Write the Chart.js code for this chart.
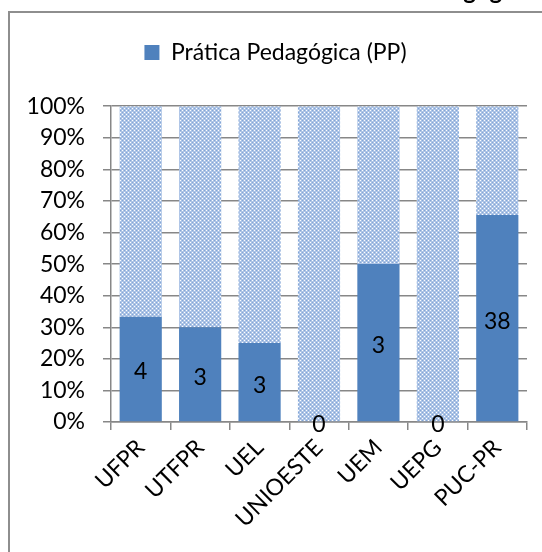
<!DOCTYPE html>
<html>
<head>
<meta charset="utf-8">
<script src="https://cdn.jsdelivr.net/npm/chart.js@4/dist/chart.umd.min.js"></script>
<style>
    body { margin: 0; background: #fff; }
    #frame { position: absolute; left: 8px; top: 11px; width: 600px; height: 600px; border: 2px solid #8e8e8e; }
    #wrap { position: absolute; left: 0; top: 0; width: 542px; height: 552px; }
</style>
</head>
<body>
<div id="frame"></div>
<div id="wrap"><canvas id="myChart"></canvas></div>
<script>
var universidades = ['UFPR', 'UTFPR', 'UEL', 'UNIOESTE', 'UEM', 'UEPG', 'PUC-PR'];
var praticaPedagogica = [4, 3, 3, 0, 3, 0, 38];
var outros = [8, 7, 9, 5, 3, 4, 20];
var yTicks = [0, 10, 20, 30, 40, 50, 60, 70, 80, 90, 100];
var tituloGrafico = 'Prática Pedagógica';

var fonte = 'Lato';
var tamanho = 23;

// percent of each column (100% stacked)
function toPercent(a, b) {
    return a.map(function (v, i) {
        var total = v + b[i];
        return total ? v / total * 100 : 0;
    });
}

function makePattern() {
    var c = document.createElement('canvas');
    c.width = 4;
    c.height = 4;
    var g = c.getContext('2d');
    g.fillStyle = '#adc4e6';
    g.fillRect(0, 0, 4, 4);
    g.fillStyle = '#ffffff';
    g.fillRect(0, 0, 1, 1);
    g.fillRect(2, 2, 1, 1);
    g.fillStyle = '#83a6d6';
    g.fillRect(2, 0, 1, 1);
    g.fillRect(0, 2, 1, 1);
    return g.createPattern(c, 'repeat');
}

var labelsPlugin = {
    id: 'valores',
    afterDatasetsDraw: function (chart) {
        var ctx = chart.ctx;
        var meta = chart.getDatasetMeta(0);
        ctx.save();
        ctx.font = tamanho + 'px ' + fonte;
        ctx.fillStyle = '#000';
        ctx.textAlign = 'center';
        ctx.textBaseline = 'middle';
        meta.data.forEach(function (bar, i) {
            ctx.fillText(String(praticaPedagogica[i]), bar.x, (bar.y + bar.base) / 2 + 3);
        });
        ctx.restore();
    }
};

var tituloPlugin = {
    id: 'titulo',
    beforeDraw: function (chart) {
        var ctx = chart.ctx;
        ctx.save();
        ctx.font = 'bold 24px ' + fonte;
        ctx.fillStyle = '#000';
        ctx.textAlign = 'right';
        ctx.textBaseline = 'alphabetic';
        ctx.fillText(tituloGrafico, 532, -1);
        ctx.restore();
    }
};

var ctx = document.getElementById('myChart');
var myChart = new Chart(ctx, {
    type: 'bar',
    data: {
        labels: universidades,
        datasets: [
            {
                label: 'Prática Pedagógica (PP)',
                data: toPercent(praticaPedagogica, outros),
                backgroundColor: '#4f81bd',
                borderWidth: 0,
                barPercentage: 0.71,
                categoryPercentage: 1
            },
            {
                label: 'Outros',
                data: toPercent(outros, praticaPedagogica),
                backgroundColor: makePattern(),
                borderWidth: 0,
                barPercentage: 0.71,
                categoryPercentage: 1
            }
        ]
    },
    options: {
        responsive: true,
        maintainAspectRatio: false,
        animation: false,
        layout: {
            padding: { left: 24, right: 15, top: 0, bottom: 0 }
        },
        plugins: {
            legend: {
                position: 'top',
                labels: {
                    filter: function (item) { return item.datasetIndex === 0; },
                    boxWidth: 15,
                    boxHeight: 15,
                    padding: 41,
                    color: '#000',
                    font: { family: fonte, size: tamanho }
                }
            },
            // empty block under the legend, just to push the plot down
            subtitle: {
                display: true,
                text: '',
                weight: 500,
                font: { size: 1 },
                padding: { top: 0, bottom: 31 }
            },
            tooltip: { enabled: false }
        },
        scales: {
            x: {
                stacked: true,
                afterFit: function (scale) { scale.height = 130; },
                grid: {
                    display: true,
                    drawOnChartArea: false,
                    tickLength: 8,
                    color: '#878787',
                    lineWidth: 1.5
                },
                border: { color: '#878787', width: 1.5 },
                ticks: {
                    minRotation: 45,
                    maxRotation: 45,
                    padding: 4,
                    color: '#000',
                    font: { family: fonte, size: tamanho }
                }
            },
            y: {
                stacked: true,
                min: 0,
                max: 100,
                afterFit: function (scale) { scale.width = 87; },
                afterBuildTicks: function (scale) {
                    scale.ticks = yTicks.map(function (v) { return { value: v }; });
                },
                grid: {
                    color: '#878787',
                    lineWidth: 1.5,
                    tickLength: 8
                },
                border: { color: '#878787', width: 1.5 },
                ticks: {
                    padding: 18,
                    color: '#000',
                    font: { family: fonte, size: tamanho },
                    callback: function (v) { return v + '%'; }
                }
            }
        }
    },
    plugins: [labelsPlugin, tituloPlugin]
});
</script>
</body>
</html>
